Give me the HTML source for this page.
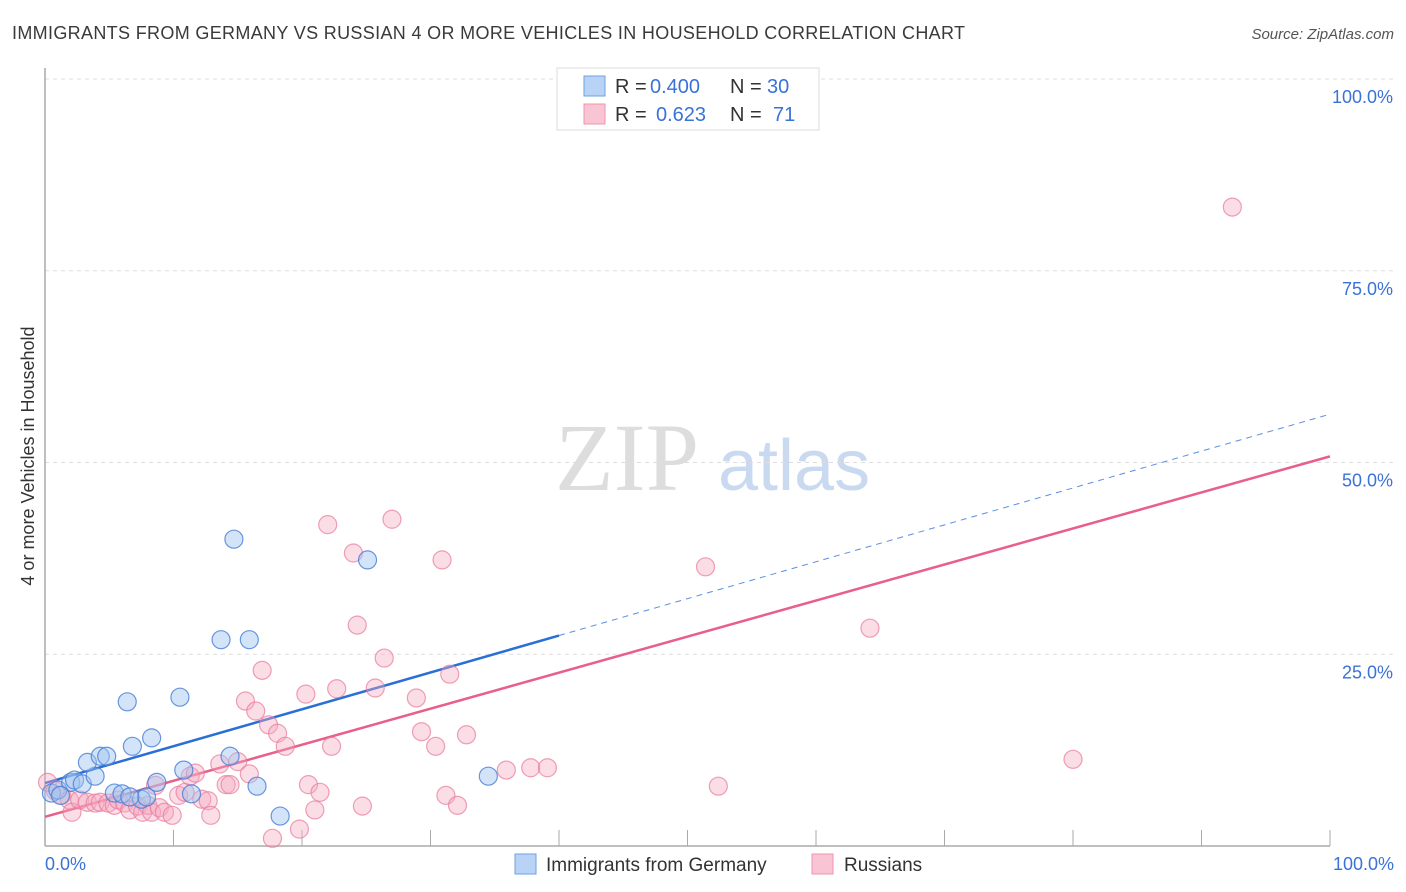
<!DOCTYPE html>
<html><head><meta charset="utf-8"><style>
body{margin:0;background:#fff;font-family:"Liberation Sans",sans-serif;}
svg{display:block}
</style></head><body>
<svg id="chart" width="1406" height="892">
<text x="12" y="39" font-size="18" fill="#3a3a3a" textLength="953">IMMIGRANTS FROM GERMANY VS RUSSIAN 4 OR MORE VEHICLES IN HOUSEHOLD CORRELATION CHART</text>
<text x="1394" y="39" font-size="15" fill="#555" font-style="italic" text-anchor="end">Source: ZipAtlas.com</text>
<text x="34" y="456" font-size="18" fill="#333" text-anchor="middle" transform="rotate(-90 34 456)">4 or more Vehicles in Household</text>
<g><text x="555" y="490" font-size="96" fill="#ddd" font-family="Liberation Serif,serif">ZIP</text><text x="718" y="490" font-size="72" fill="#c9daf0">atlas</text></g>
<g id="grid"></g><g id="axes"></g><g id="lines"></g><g id="pts"></g>
<g>
<rect x="557" y="68" width="262" height="62" fill="#fff" stroke="#ddd"/>
<rect x="584" y="76" width="21" height="20" fill="#b8d3f5" stroke="#6f9fe0"/>
<rect x="584" y="104" width="21" height="20" fill="#f9c4d3" stroke="#ee94ae"/>
<text y="93" font-size="20" fill="#333"><tspan x="615">R =</tspan><tspan x="650" fill="#3a72d8">0.400</tspan><tspan x="730">N =</tspan><tspan x="767" fill="#3a72d8">30</tspan></text>
<text y="121" font-size="20" fill="#333"><tspan x="615">R =</tspan><tspan x="656" fill="#3a72d8">0.623</tspan><tspan x="730">N =</tspan><tspan x="773" fill="#3a72d8">71</tspan></text>
</g>
<g>
<rect x="515" y="854" width="21" height="20" fill="#b8d3f5" stroke="#6f9fe0"/>
<text x="546" y="871" font-size="19" fill="#333">Immigrants from Germany</text>
<rect x="812" y="854" width="21" height="20" fill="#f9c4d3" stroke="#ee94ae"/>
<text x="844" y="871" font-size="19" fill="#333">Russians</text>
</g>
</svg>
<script>
const yTicks=[25,50,75,100];
const yTickLabels=["25.0%","50.0%","75.0%","100.0%"];
const xTickLabels=["0.0%","100.0%"];
const germanyX=[0.5,1,2,2.3,2.9,3.9,3.3,4.3,4.8,6.4,6.8,8.3,10.5,14.7,13.7,15.9,25.1,5.4,6,7.5,7.9,8.7,10.8,11.4,14.4,16.5,18.3,34.5,1.2,6.6];
const germanyY=[6.9,7.3,8.3,8.6,8.1,9.1,10.9,11.7,11.7,18.8,13.0,14.1,19.4,40,26.9,26.9,37.3,6.9,6.8,6.1,6.4,8.3,9.9,6.8,11.7,7.8,3.9,9.1,6.6,6.4];
const russiaX=[0.2,0.8,1.3,1.9,2.1,2.7,3.3,3.9,4.3,4.9,5.4,5.7,6.2,6.6,7.2,7.6,8,8.3,8.6,8.9,9.3,9.9,10.4,10.9,11.3,11.7,12.2,12.7,12.9,13.6,14.1,14.4,15,15.6,15.9,16.4,16.9,17.4,18.1,18.7,17.7,19.8,20.3,20.5,21,21.4,22,22.3,22.7,24,24.3,24.7,25.7,26.4,27,28.9,29.3,30.4,30.9,31.2,31.5,32.1,32.8,35.9,37.8,39.1,51.4,52.4,64.2,80,92.4];
const russiaY=[8.3,7.2,6.6,6,4.4,6,5.7,5.6,5.7,5.6,5.3,6,5.6,4.7,5.2,4.4,5.3,4.4,7.9,5,4.4,4,6.6,7,9.1,9.5,6.1,5.9,4,10.7,8,8,11,18.9,9.4,17.6,22.9,15.8,14.7,13,1,2.2,19.8,8,4.7,7,41.9,13,20.5,38.2,28.8,5.2,20.6,24.5,42.6,19.3,14.9,13,37.3,6.6,22.4,5.3,14.5,9.9,10.2,10.2,36.4,7.8,28.4,11.3,83.3];
const blueFit=[8.2,56.3], pinkFit=[3.8,50.8], blueSolidEnd=40;
const NS="http://www.w3.org/2000/svg";
const X=v=>45+v*12.85, Y=v=>846-v*7.67;
function mk(tag,attrs,parent){const e=document.createElementNS(NS,tag);for(const k in attrs)e.setAttribute(k,attrs[k]);parent.appendChild(e);return e;}
const grid=document.getElementById('grid'),axes=document.getElementById('axes'),lines=document.getElementById('lines'),pts=document.getElementById('pts');
yTicks.forEach((t,i)=>{
 const g=mk('line',{x1:45,x2:1394,y1:Y(t),y2:Y(t),stroke:'#ddd','stroke-dasharray':'4 4'},grid);
 
 
 const tx=mk('text',{x:1393,y:Y(t)+24,'font-size':18,fill:'#3a72d8','text-anchor':'end'},axes);
 tx.textContent=yTickLabels[i];
 
 
});
const ya=mk('line',{x1:45,x2:45,y1:68,y2:846,stroke:'#aaa','stroke-width':1.5},axes);


const xa=mk('line',{x1:45,x2:1330,y1:846,y2:846,stroke:'#aaa','stroke-width':1.5},axes);


for(let i=1;i<=10;i++){const t=mk('line',{x1:X(i*10),x2:X(i*10),y1:830,y2:846,stroke:'#aaa'},axes);
 
 }
[[0,'start',45],[100,'end',1394]].forEach(([v,a,x],i)=>{const t=mk('text',{x:x,y:870,'font-size':18,fill:'#3a72d8','text-anchor':a},axes);t.textContent=xTickLabels[i];
 
 });
const fy=(f,x)=>f[0]+(f[1]-f[0])*x/100;
const pl=mk('line',{x1:X(0),y1:Y(fy(pinkFit,0)),x2:X(100),y2:Y(fy(pinkFit,100)),stroke:'#e8608a','stroke-width':2.5},lines);


const bl=mk('line',{x1:X(0),y1:Y(fy(blueFit,0)),x2:X(blueSolidEnd),y2:Y(fy(blueFit,blueSolidEnd)),stroke:'#2a6fd6','stroke-width':2.5},lines);


const bd=mk('line',{x1:X(blueSolidEnd),y1:Y(fy(blueFit,blueSolidEnd)),x2:X(100),y2:Y(fy(blueFit,100)),stroke:'#5a8fe0','stroke-width':1,'stroke-dasharray':'6 5'},lines);


russiaX.forEach((x,i)=>{const c=mk('circle',{cx:X(x),cy:Y(russiaY[i]),r:9,fill:'rgba(246,170,192,0.4)',stroke:'rgba(232,120,155,0.7)','stroke-width':1.2},pts);
 
 });
germanyX.forEach((x,i)=>{const c=mk('circle',{cx:X(x),cy:Y(germanyY[i]),r:9,fill:'rgba(160,196,240,0.45)',stroke:'rgba(70,125,215,0.8)','stroke-width':1.2},pts);
 
 });
</script>
</body></html>
